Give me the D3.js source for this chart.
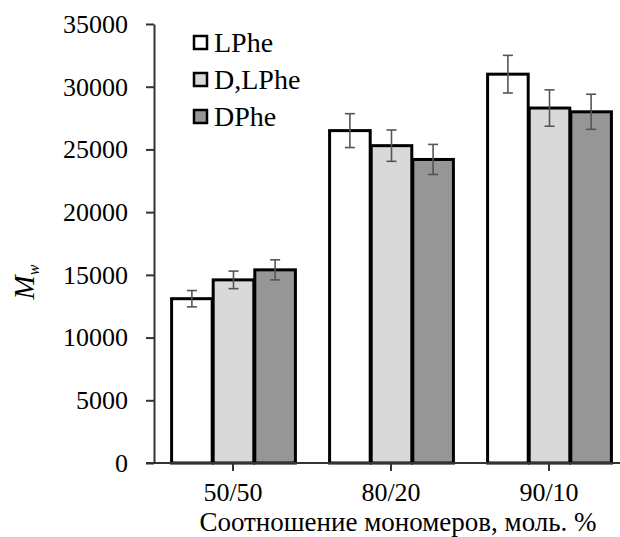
<!DOCTYPE html>
<meta charset="utf-8">
<script src="https://d3js.org/d3.v7.min.js"></script>
<style>
body { margin: 0; background: #fff; }
svg { font-family: "Liberation Serif", "Times New Roman", serif; }
.axis path, .axis line { stroke: #333; stroke-width: 2px; }
</style>
<body>
<div id="chart"></div>
<script>
// соотношения мономеров
var categories = ["50/50", "80/20", "90/10"];
var series = ["LPhe", "D,LPhe", "DPhe"];
var colors = ["#ffffff", "#d9d9d9", "#969696"];
// Mw по сериям (в порядке categories)
var LPhe   = [13100, 26500, 31000];
var DLPhe  = [14600, 25300, 28300];
var DPhe   = [15400, 24200, 28000];
// погрешности
var errLPhe  = [650, 1350, 1500];
var errDLPhe = [700, 1250, 1450];
var errDPhe  = [800, 1200, 1400];
var yTicks = [0, 5000, 10000, 15000, 20000, 25000, 30000, 35000];

var values = [LPhe, DLPhe, DPhe];
var errors = [errLPhe, errDLPhe, errDPhe];

var width = 620, height = 537;
var margin = {top: 24, left: 154, bottom: 74};
var serif = "'Liberation Serif', 'Times New Roman', serif";

var svg = d3.select("#chart").append("svg")
  .attr("width", width)
  .attr("height", height);

var x = d3.scaleBand()
  .domain(categories)
  .range([margin.left, margin.left + 3 * 158])
  .paddingInner(0.21)
  .paddingOuter(0.105);

var xs = d3.scaleBand()
  .domain(series)
  .range([0, x.bandwidth()]);

var y = d3.scaleLinear()
  .domain([0, 35000])
  .range([height - margin.bottom, margin.top]);

// оси
var yAxis = svg.append("g")
  .attr("class", "axis")
  .attr("transform", "translate(" + margin.left + ",0)")
  .call(d3.axisLeft(y).tickValues(yTicks).tickSize(8).tickSizeOuter(0).tickPadding(18).tickFormat(d3.format("d")));

// столбцы
var groups = svg.selectAll(".grp")
  .data(categories)
  .enter().append("g")
  .attr("transform", function(d) { return "translate(" + x(d) + ",0)"; });

series.forEach(function(s, si) {
  groups.append("rect")
    .attr("x", xs(s) + 1)
    .attr("width", xs.bandwidth() - 1)
    .attr("y", function(d, ci) { return y(values[si][ci]); })
    .attr("height", function(d, ci) { return y(0) - y(values[si][ci]); })
    .style("fill", colors[si])
    .style("stroke", "#000")
    .style("stroke-width", 3);
});

// погрешности
series.forEach(function(s, si) {
  groups.each(function(d, ci) {
    var g = d3.select(this);
    var cx = xs(s) + xs.bandwidth() / 2 + 0.5;
    var v = values[si][ci], e = errors[si][ci];
    g.append("line")
      .attr("x1", cx).attr("x2", cx)
      .attr("y1", y(v + e)).attr("y2", y(v - e));
    g.append("line")
      .attr("x1", cx - 5).attr("x2", cx + 5)
      .attr("y1", y(v + e)).attr("y2", y(v + e));
    g.append("line")
      .attr("x1", cx - 5).attr("x2", cx + 5)
      .attr("y1", y(v - e)).attr("y2", y(v - e));
  });
});
svg.selectAll("g line").filter(function() { return !this.closest(".axis"); })
  .style("stroke", "#555")
  .style("stroke-width", 1.6);

var xAxis = svg.append("g")
  .attr("class", "axis")
  .attr("transform", "translate(0," + y(0) + ")")
  .call(d3.axisBottom(x).tickSize(8).tickSizeOuter(0).tickPadding(12));
xAxis.select(".domain").attr("d", "M" + (margin.left - 8) + ",0H" + (margin.left + 3 * 158));

// шрифт подписей осей (d3 ставит sans-serif по умолчанию)
svg.selectAll(".axis")
  .attr("font-family", serif)
  .attr("font-size", 26);
svg.selectAll(".axis text")
  .style("font-family", serif)
  .style("font-size", "26px")
  .style("fill", "#000");

// подписи осей
svg.append("text")
  .attr("x", 398)
  .attr("y", 531)
  .attr("text-anchor", "middle")
  .style("font-size", "27px")
  .text("Соотношение мономеров, моль. %");

var yl = svg.append("text")
  .attr("transform", "translate(34,282) rotate(-90)")
  .attr("text-anchor", "middle")
  .style("font-size", "29px")
  .style("font-style", "italic");
yl.append("tspan").text("M");
yl.append("tspan").attr("dy", 5).style("font-size", "16px").text("w");

// легенда
var leg = svg.append("g").attr("transform", "translate(193,35)");
series.forEach(function(s, i) {
  var r = leg.append("g").attr("transform", "translate(0," + i * 37 + ")");
  r.append("rect")
    .attr("x", 1).attr("y", 1).attr("width", 13).attr("height", 13)
    .style("fill", colors[i]).style("stroke", "#000").style("stroke-width", 2.5);
  r.append("text")
    .attr("x", 21).attr("y", 17)
    .style("font-size", "28px")
    .text(s);
});
</script>
</body>
